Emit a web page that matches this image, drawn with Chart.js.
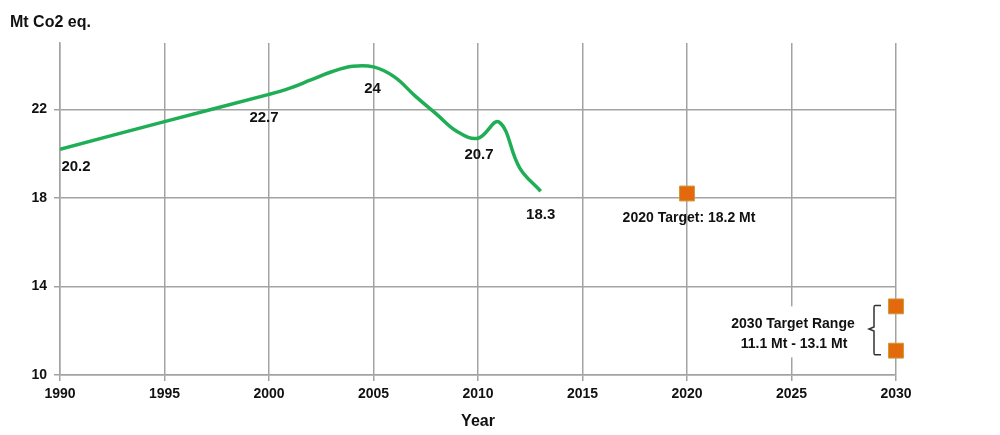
<!DOCTYPE html>
<html>
<head>
<meta charset="utf-8">
<script src="https://cdn.jsdelivr.net/npm/chart.js@4.4.1/dist/chart.umd.min.js"></script>
<style>
  html, body { margin: 0; padding: 0; background: #ffffff; }
  #wrap { width: 1000px; height: 435px; position: relative; }
</style>
</head>
<body>
<div id="wrap"><canvas id="c" width="1000" height="435"></canvas></div>
<script>
// ---- data ----
const years = [1990, 1995, 2000, 2001, 2002, 2003, 2004, 2005, 2006, 2007, 2008, 2009, 2010, 2011, 2012, 2013];
const emissions = [20.2, 21.45, 22.68, 22.96, 23.33, 23.7, 23.95, 23.92, 23.47, 22.6, 21.8, 21.0, 20.7, 21.43, 19.35, 18.3];
const labelYears = [1990, 2000, 2005, 2010, 2013];
const labelValues = [20.2, 22.7, 24, 20.7, 18.3];
const labelTexts = ['20.2', '22.7', '24', '20.7', '18.3'];
const targetYears = [2020, 2030, 2030];
const targetValues = [18.2, 13.1, 11.1];
const target2020Text = '2020 Target: 18.2 Mt';
const target2030Text = ['2030 Target Range', '11.1 Mt - 13.1 Mt'];
const yTicks = [10, 14, 18, 22];
const xMin = 1990, xMax = 2030, xStep = 5;
const yMin = 10, yMax = 25;
const yTitle = 'Mt Co2 eq.';
const xTitle = 'Year';

// ---- styles ----
const FONT = '"Liberation Sans", Arial, Helvetica, sans-serif';
const GRID = '#a3a3a3';
const labelOffsets = [[16, 18], [-5, 24], [-1, 24], [1, 17], [0, 24]];

const lineData = years.map((y, i) => ({ x: y, y: emissions[i] }));
const targetData = targetYears.map((y, i) => ({ x: y, y: targetValues[i] }));

const textPlugin = {
  id: 'texts',
  beforeDatasetsDraw(chart) {
    const ctx = chart.ctx;
    const xs = chart.scales.x, ys = chart.scales.y;
    const x30 = xs.getPixelForValue(targetYears[1]);
    const yTop = ys.getPixelForValue(targetValues[1]);
    ctx.save();
    ctx.fillStyle = '#ffffff';
    ctx.fillRect(x30 - 174, yTop, 140, 51);
    ctx.restore();
  },
  afterDatasetsDraw(chart) {
    const ctx = chart.ctx;
    const xs = chart.scales.x, ys = chart.scales.y;
    ctx.save();
    ctx.fillStyle = '#111111';
    ctx.textAlign = 'center';
    ctx.textBaseline = 'middle';
    ctx.font = 'bold 15px ' + FONT;
    labelYears.forEach((yr, i) => {
      const px = xs.getPixelForValue(yr) + labelOffsets[i][0];
      const py = ys.getPixelForValue(labelValues[i]) + labelOffsets[i][1];
      ctx.fillText(labelTexts[i], px, py);
    });
    ctx.font = 'bold 14px ' + FONT;
    ctx.fillText(target2020Text, xs.getPixelForValue(targetYears[0]) + 2, ys.getPixelForValue(targetValues[0]) + 25);
    const x30 = xs.getPixelForValue(targetYears[1]);
    const yA = ys.getPixelForValue(targetValues[1]);
    const yB = ys.getPixelForValue(targetValues[2]);
    ctx.fillText(target2030Text[0], x30 - 103, yA + 18);
    ctx.fillText(target2030Text[1], x30 - 102, yA + 38);
    // bracket
    const bx = x30 - 22;
    const top = yA - 1, bot = yB + 4, mid = (top + bot) / 2 - 1;
    ctx.strokeStyle = '#333333';
    ctx.lineWidth = 1.5;
    ctx.beginPath();
    ctx.moveTo(bx + 7, top);
    ctx.lineTo(bx + 1, top);
    ctx.quadraticCurveTo(bx, top, bx, top + 2);
    ctx.lineTo(bx, mid - 2);
    ctx.lineTo(bx - 5, mid);
    ctx.lineTo(bx, mid + 2);
    ctx.lineTo(bx, bot - 2);
    ctx.quadraticCurveTo(bx, bot, bx + 1, bot);
    ctx.lineTo(bx + 7, bot);
    ctx.stroke();
    // axis titles
    ctx.fillStyle = '#111111';
    ctx.font = 'bold 16px ' + FONT;
    ctx.textAlign = 'left';
    ctx.fillText(yTitle, 10, 23);
    ctx.textAlign = 'center';
    ctx.fillText(xTitle, (xs.left + xs.right) / 2, 422);
    ctx.restore();
  }
};

new Chart(document.getElementById('c'), {
  type: 'line',
  data: {
    datasets: [
      {
        data: lineData,
        borderColor: '#1fae55',
        borderWidth: 3.5,
        pointRadius: 0,
        fill: false,
        tension: 0.4,
        order: 2
      },
      {
        type: 'scatter',
        data: targetData,
        showLine: false,
        pointStyle: 'rect',
        pointRadius: 10.5,
        backgroundColor: '#e4680c',
        borderColor: '#c99a3a',
        borderWidth: 1,
        clip: false,
        order: 1
      }
    ]
  },
  options: {
    responsive: false,
    animation: false,
    events: [],
    layout: { padding: { top: 43, right: 104, left: 0, bottom: 0 } },
    plugins: { legend: { display: false }, tooltip: { enabled: false }, title: { display: false } },
    scales: {
      x: {
        type: 'linear',
        min: xMin, max: xMax,
        afterFit(scale) { scale.height = 60; },
        ticks: { stepSize: xStep, color: '#111111', font: { family: FONT, size: 14, weight: 'bold' }, padding: 5, maxRotation: 0, callback: v => String(v) },
        grid: { color: GRID, lineWidth: 1.5, tickLength: 6, drawTicks: true },
        border: { color: GRID, width: 1.5 }
      },
      y: {
        type: 'linear',
        min: yMin, max: yMax,
        afterFit(scale) { scale.width = 60; },
        afterBuildTicks(scale) { scale.ticks = yTicks.map(v => ({ value: v })); },
        ticks: { color: '#111111', font: { family: FONT, size: 14, weight: 'bold' }, padding: 7 },
        grid: { color: GRID, lineWidth: 1.5, tickLength: 6 },
        border: { color: GRID, width: 1.5 }
      }
    }
  },
  plugins: [textPlugin]
});
</script>
</body>
</html>
